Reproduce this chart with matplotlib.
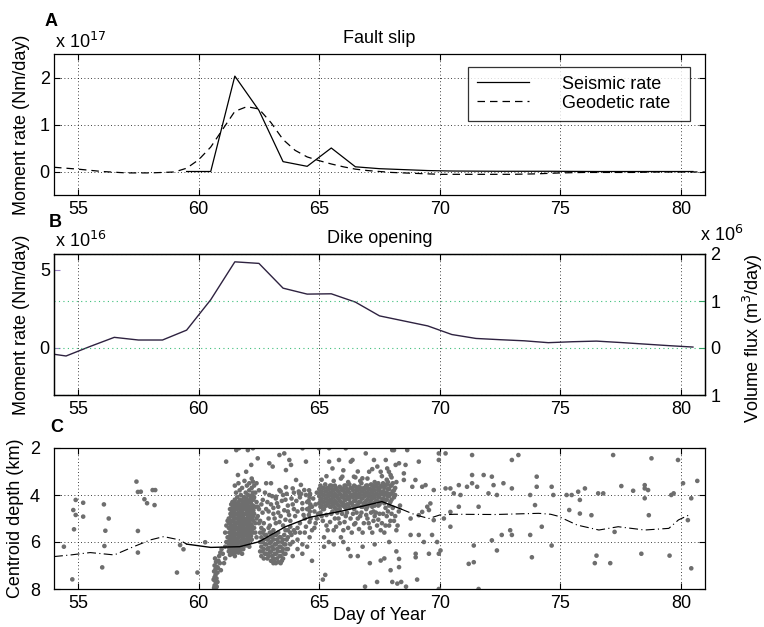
import matplotlib
matplotlib.use("Agg")
import matplotlib.pyplot as plt
import numpy as np

plt.rcParams['font.family'] = ['Liberation Sans', 'DejaVu Sans']
FS = 13
plt.rcParams['font.size'] = FS

# ---------------- Panel A: fault slip (x 1e17 Nm/day) ----------------
seis_day = [59.5, 60.5, 61.5, 62.5, 63.5, 64.5, 65.5, 66.5, 67.5, 68.5, 69.5, 70.5,
            72.5, 74.5, 76.5, 78.5, 80.5]
seis_rate = [0.0, 0.0, 2.03, 1.30, 0.21, 0.11, 0.50, 0.10, 0.06, 0.04, 0.02, 0.01,
             0.005, 0.005, 0.0, 0.0, 0.0]
geo_day = [54.0, 55.0, 56.0, 57.0, 58.0, 59.0, 59.5, 60.0, 60.5, 61.0, 61.5, 62.0,
           62.5, 63.0, 63.5, 64.0, 64.5, 65.0, 65.5, 66.0, 66.5, 67.0, 67.5, 68.0,
           69.0, 70.0, 71.0, 72.0, 73.0, 74.0, 75.0, 76.0, 77.0, 78.0, 79.0, 80.0, 81.0]
geo_rate = [0.09, 0.05, 0.0, -0.03, -0.03, -0.01, 0.07, 0.25, 0.52, 0.90, 1.28, 1.38,
            1.33, 1.04, 0.68, 0.45, 0.31, 0.23, 0.16, 0.10, 0.05, 0.02, 0.0, -0.02,
            -0.04, -0.06, -0.06, -0.06, -0.06, -0.05, -0.03, -0.02, -0.02, -0.02, -0.01, -0.01, -0.01]

# ---------------- Panel B: dike opening (x 1e16 Nm/day) ----------------
dike_day = [54.0, 54.5, 55.5, 56.5, 57.5, 58.5, 59.5, 60.5, 61.5, 62.5, 63.5, 64.5,
            65.5, 66.5, 67.5, 68.5, 69.5, 70.5, 71.5, 72.5, 73.5, 74.5, 75.5, 76.5,
            77.5, 78.5, 79.5, 80.5]
dike_rate = [-0.40, -0.51, 0.10, 0.68, 0.51, 0.51, 1.14, 3.08, 5.50, 5.40, 3.82, 3.44,
             3.46, 2.93, 2.05, 1.73, 1.41, 0.86, 0.61, 0.53, 0.46, 0.34, 0.40, 0.44,
             0.35, 0.25, 0.15, 0.06]

# ---------------- Panel C: centroid depth (km) ----------------
trend_day = [54.0, 54.7, 55.5, 56.5, 57.3, 58.0, 58.55, 59.2, 59.5, 60.5, 61.7, 62.5,
             63.6, 64.6, 66.0, 67.6, 68.4, 69.0, 69.55, 70.0, 70.6, 72.3, 74.1, 74.6,
             74.9, 75.7, 76.6, 77.4, 78.5, 79.5, 79.9, 80.4]
trend_depth = [6.62, 6.55, 6.45, 6.55, 6.20, 5.91, 5.77, 5.91, 6.09, 6.23, 6.20, 5.99,
               5.35, 4.95, 4.67, 4.28, 4.60, 4.85, 5.00, 4.85, 4.82, 4.83, 4.78, 4.82,
               4.90, 5.28, 5.49, 5.35, 5.49, 5.42, 5.06, 4.82]
trend_solid_from = 59.5
trend_solid_to = 68.4

eq_day = [
 54.41, 54.90, 55.21, 54.80, 54.90, 55.21, 54.83, 54.76, 56.07, 56.27, 56.13, 56.09, 56.00,
 57.42, 57.48, 57.60, 57.75, 57.86, 57.48, 57.48, 58.09, 58.20, 58.17, 59.23, 59.37, 59.10,
 59.95, 60.27,
 60.68, 60.72, 60.66, 60.75, 60.70, 60.64, 60.78, 60.70, 60.66, 60.74, 60.68, 60.72, 60.66,
 60.75, 60.70, 60.80, 60.82, 60.62, 60.78, 60.64, 60.85, 60.90, 60.95, 61.00, 60.88, 60.92,
 61.05, 61.10, 61.10, 61.15, 61.20, 61.10, 61.15, 61.20,
 61.14, 61.56, 61.67, 62.04, 62.25, 62.18, 61.97, 61.63, 62.25, 62.45, 62.93, 63.07, 63.00,
 63.35, 63.55, 63.76, 63.83, 63.62, 64.04, 64.24, 64.38, 64.17, 63.90, 63.62, 63.35, 63.21,
 62.93, 62.66, 62.45, 62.80, 64.31, 64.45, 64.99, 65.41, 66.10, 66.38, 66.31, 66.93, 67.27,
 67.41, 67.55, 68.03, 65.41, 65.82, 65.55, 65.96, 66.44, 66.79, 67.07, 67.82, 67.96, 68.17,
]
eq_depth = [
 6.20, 4.21, 4.33, 4.64, 4.85, 4.92, 5.46, 7.59, 4.40, 5.00, 5.52, 6.17, 7.08,
 3.43, 3.87, 3.86, 4.18, 4.35, 5.53, 6.45, 3.79, 3.79, 4.43, 6.13, 6.31, 7.30,
 7.30, 6.01,
 6.70, 6.85, 7.00, 7.05, 7.15, 7.25, 7.30, 7.40, 7.50, 7.55, 7.65, 7.75, 7.85,
 7.90, 7.98, 7.10, 6.80, 7.60, 7.70, 7.95, 6.60, 6.45, 6.30, 6.50, 6.90, 7.20,
 6.90, 6.70, 6.20, 6.00, 5.80, 5.60, 5.30, 5.10,
 2.58, 2.09, 2.01, 2.09, 2.01, 2.72, 3.01, 3.15, 3.43, 2.44, 2.65, 2.79, 3.50,
 2.30, 2.23, 2.51, 2.72, 2.94, 3.36, 3.57, 3.79, 3.93, 3.72, 3.67, 3.79, 4.07,
 4.00, 4.21, 4.50, 3.50, 2.01, 2.58, 2.01, 2.01, 2.01, 2.51, 2.58, 2.23, 2.51,
 2.79, 3.01, 2.09, 2.58, 2.51, 2.87, 3.22, 3.22, 3.29, 3.01, 2.87, 3.15, 2.72,
]

# dense cluster 61.2-62.5 km 3.3-6.6
blobA_day = [
 61.25, 61.25, 61.25, 61.25, 61.25,
 61.30, 61.30, 61.30, 61.30, 61.30, 61.30,
 61.35, 61.35, 61.35, 61.35, 61.35,
 61.40, 61.40, 61.40, 61.40, 61.40, 61.40,
 61.45, 61.45, 61.45, 61.45, 61.45,
 61.50, 61.50, 61.50, 61.50, 61.50, 61.50, 61.50, 61.50,
 61.55, 61.55, 61.55, 61.55, 61.55, 61.55,
 61.60, 61.60, 61.60, 61.60, 61.60, 61.60,
 61.65, 61.65, 61.65, 61.65, 61.65, 61.65, 61.65,
 61.70, 61.70, 61.70, 61.70, 61.70, 61.70,
 61.75, 61.75, 61.75, 61.75, 61.75,
 61.80, 61.80, 61.80, 61.80, 61.80, 61.80, 61.80,
 61.85, 61.85, 61.85, 61.85, 61.85,
 61.90, 61.90, 61.90, 61.90, 61.90, 61.90,
 61.95, 61.95, 61.95, 61.95, 61.95, 61.95,
 62.00, 62.00, 62.00, 62.00, 62.00, 62.00,
 62.05, 62.05, 62.05, 62.05, 62.05,
 62.10, 62.10, 62.10, 62.10, 62.10, 62.10, 62.10,
 62.15, 62.15, 62.15, 62.15,
 62.20, 62.20, 62.20, 62.20, 62.20, 62.20,
 62.25, 62.25, 62.25, 62.25,
 62.30, 62.30, 62.30, 62.30,
 62.40, 62.40, 62.40, 62.40,
 62.50, 62.50, 62.50,
 61.27, 61.27, 61.27, 61.27,
 61.32, 61.32, 61.32, 61.32, 61.32,
 61.37, 61.37, 61.37, 61.37, 61.37,
 61.42, 61.42, 61.42, 61.42, 61.42, 61.42,
 61.47, 61.47, 61.47, 61.47, 61.47, 61.47,
 61.52, 61.52, 61.52, 61.52, 61.52, 61.52,
 61.57, 61.57, 61.57, 61.57, 61.57,
 61.62, 61.62, 61.62, 61.62, 61.62, 61.62,
 61.67, 61.67, 61.67, 61.67, 61.67,
 61.72, 61.72, 61.72, 61.72, 61.72, 61.72,
 61.77, 61.77, 61.77, 61.77, 61.77,
 61.82, 61.82, 61.82, 61.82, 61.82,
 61.87, 61.87, 61.87, 61.87, 61.87,
 61.92, 61.92, 61.92, 61.92, 61.92,
 61.97, 61.97, 61.97, 61.97, 61.97,
 62.02, 62.02, 62.02, 62.02,
 62.07, 62.07, 62.07, 62.07, 62.07,
 62.12, 62.12, 62.12, 62.12,
 62.17, 62.17, 62.17, 62.17,
 62.22, 62.22, 62.22, 62.22,
 62.27, 62.27, 62.27,
 62.35, 62.35, 62.35, 62.35,
]
blobA_depth = [
 5.00, 5.40, 5.80, 6.10, 6.40,
 4.60, 5.20, 5.60, 6.00, 6.30, 6.55,
 4.40, 4.90, 5.30, 5.70, 6.20,
 4.30, 4.70, 5.10, 5.50, 5.90, 6.35,
 4.50, 4.95, 5.35, 5.80, 6.15,
 3.60, 4.20, 4.60, 5.00, 5.45, 5.90, 6.30, 6.60,
 3.90, 4.40, 4.80, 5.20, 5.65, 6.10,
 4.10, 4.55, 5.00, 5.40, 5.85, 6.25,
 3.50, 4.30, 4.75, 5.15, 5.60, 6.00, 6.45,
 3.80, 4.45, 4.90, 5.30, 5.75, 6.20,
 4.00, 4.60, 5.05, 5.50, 5.95,
 3.70, 4.25, 4.70, 5.20, 5.65, 6.10, 6.50,
 4.35, 4.85, 5.35, 5.80, 6.30,
 3.40, 4.10, 4.55, 5.00, 5.50, 5.90,
 3.90, 4.40, 4.80, 5.25, 5.70, 6.15,
 3.60, 4.20, 4.65, 5.10, 5.55, 6.00,
 4.00, 4.50, 4.95, 5.40, 5.85,
 3.50, 3.80, 4.30, 4.75, 5.20, 5.65, 6.20,
 4.10, 4.60, 5.05, 5.50,
 3.30, 3.70, 4.20, 4.70, 5.30, 5.90,
 3.90, 4.45, 4.90, 5.60,
 3.60, 4.10, 4.80, 5.40,
 3.50, 4.30, 5.00, 5.80,
 3.80, 4.60, 5.20,
 5.20, 5.60, 5.95, 6.25,
 4.80, 5.40, 5.80, 6.15, 6.45,
 4.65, 5.10, 5.50, 5.95, 6.40,
 4.50, 4.90, 5.30, 5.70, 6.10, 6.50,
 4.30, 4.75, 5.15, 5.60, 6.00, 6.40,
 4.40, 4.80, 5.25, 5.70, 6.10, 6.45,
 4.60, 5.00, 5.45, 5.90, 6.30,
 4.35, 4.80, 5.20, 5.65, 6.05, 6.40,
 4.55, 4.95, 5.40, 5.80, 6.25,
 4.20, 4.70, 5.10, 5.55, 6.00, 6.35,
 4.40, 4.85, 5.30, 5.75, 6.15,
 4.50, 4.95, 5.45, 5.90, 6.30,
 4.10, 4.60, 5.10, 5.55, 6.05,
 4.30, 4.80, 5.25, 5.70, 6.10,
 4.15, 4.60, 5.05, 5.45, 5.90,
 4.40, 4.85, 5.30, 5.75,
 4.25, 4.70, 5.15, 5.60, 6.05,
 4.50, 4.95, 5.40, 5.90,
 4.35, 4.85, 5.25, 5.75,
 4.00, 4.50, 4.95, 5.45,
 4.20, 4.65, 5.10,
 3.90, 4.50, 5.20, 5.60,
]

# cluster 62.5-64.9
blobB_day = [
 62.55, 62.55, 62.55, 62.60, 62.60, 62.60, 62.60, 62.70, 62.70, 62.70, 62.70,
 62.80, 62.80, 62.80, 62.90, 62.90, 62.90, 62.90, 63.00, 63.00, 63.00, 63.00,
 63.10, 63.10, 63.10, 63.10, 63.10, 63.20, 63.20, 63.20, 63.20, 63.30, 63.30, 63.30, 63.30,
 63.40, 63.40, 63.40, 63.40, 63.50, 63.50, 63.50, 63.60, 63.60, 63.60, 63.70, 63.70,
 63.90, 63.90, 64.10, 64.10, 64.30, 64.30, 64.50, 64.70,
 62.65, 62.65, 62.65, 62.75, 62.75, 62.75, 62.85, 62.85, 62.85, 62.95, 62.95, 62.95,
 63.05, 63.05, 63.05, 63.15, 63.15, 63.15, 63.15, 63.25, 63.25, 63.25,
 63.35, 63.35, 63.35, 63.45, 63.45, 63.45, 63.55, 63.55, 63.55, 63.65, 63.65, 63.80, 63.80,
 62.80, 62.90, 63.00, 63.10, 63.20, 63.30, 63.40, 63.50, 63.60, 63.70, 63.80, 63.90,
 64.00, 64.10, 64.20, 64.30, 64.40, 64.50, 63.95, 64.25, 63.50, 63.20, 64.00, 63.85,
 64.40, 64.60, 64.80, 64.90, 64.80,
 64.58, 64.62, 64.60, 64.56, 64.63, 64.59, 64.61, 64.57, 64.64, 64.60,
 62.45, 62.55, 62.60, 62.65, 62.70, 62.75, 62.85, 62.90, 62.95, 63.05, 63.10, 63.15,
 63.25, 63.30, 63.35, 63.40, 63.45, 63.55, 63.60, 63.65, 63.70, 63.75, 63.80, 63.85,
 63.95, 64.05, 64.10, 64.15, 64.20, 64.30, 64.35, 64.45, 64.50, 64.70, 64.75, 64.85,
 64.90, 64.95, 64.85, 64.70, 64.45, 64.20, 63.95, 63.70,
]
blobB_depth = [
 5.60, 6.00, 6.40, 5.40, 5.80, 6.20, 6.60, 5.50, 5.90, 6.30, 6.70,
 5.70, 6.10, 6.50, 5.40, 5.85, 6.25, 6.60, 5.60, 6.00, 6.40, 6.80,
 5.50, 5.90, 6.30, 6.70, 6.90, 5.70, 6.10, 6.50, 6.90, 5.60, 6.00, 6.40, 6.85,
 5.80, 6.20, 6.60, 6.90, 5.90, 6.30, 6.70, 5.50, 6.10, 6.50, 5.80, 6.30,
 6.00, 6.60, 5.90, 6.30, 6.10, 6.50, 6.20, 6.80,
 5.60, 6.00, 6.40, 5.70, 6.10, 6.50, 5.90, 6.30, 6.70, 5.60, 6.05, 6.45,
 5.80, 6.20, 6.60, 5.70, 6.10, 6.50, 6.85, 5.90, 6.30, 6.70,
 5.80, 6.20, 6.60, 6.00, 6.40, 6.80, 5.70, 6.10, 6.50, 5.90, 6.30, 5.60, 6.10,
 4.60, 5.00, 4.40, 4.80, 5.20, 4.50, 4.90, 5.30, 4.20, 4.70, 5.10, 4.40,
 4.90, 5.40, 4.10, 4.60, 5.00, 4.30, 3.90, 3.95, 4.00, 4.15, 5.60, 5.70,
 5.60, 5.80, 5.40, 5.00, 4.70,
 3.80, 3.95, 4.10, 4.25, 4.40, 4.55, 4.70, 4.85, 5.00, 5.15,
 4.90, 5.10, 4.40, 4.75, 5.20, 3.90, 4.30, 4.70, 5.30, 4.05, 4.55, 5.00,
 4.35, 4.75, 5.15, 3.85, 4.25, 4.65, 5.05, 3.95, 4.45, 4.85, 5.35, 4.15,
 4.60, 4.25, 4.70, 3.85, 5.20, 4.35, 4.85, 4.00, 4.60, 4.50, 4.15, 4.40,
 3.90, 4.80, 5.20, 5.50, 5.35, 5.60, 5.50, 5.50,
]

# dense band 65-68.2
bandC_day = [
 65.05, 65.05, 65.05, 65.05, 65.15, 65.15, 65.15, 65.15, 65.25, 65.25, 65.25, 65.25,
 65.35, 65.35, 65.35, 65.45, 65.45, 65.45, 65.45, 65.55, 65.55, 65.55,
 65.65, 65.65, 65.65, 65.65, 65.75, 65.75, 65.75, 65.85, 65.85, 65.85, 65.85,
 65.95, 65.95, 65.95, 66.05, 66.05, 66.05, 66.05, 66.15, 66.15, 66.15,
 66.25, 66.25, 66.25, 66.25, 66.35, 66.35, 66.35, 66.45, 66.45, 66.45, 66.45,
 66.55, 66.55, 66.55, 66.65, 66.65, 66.65, 66.75, 66.75, 66.75, 66.75,
 66.85, 66.85, 66.85, 66.95, 66.95, 66.95, 66.95, 67.05, 67.05, 67.05,
 67.15, 67.15, 67.15, 67.25, 67.25, 67.25, 67.25, 67.35, 67.35, 67.35,
 67.45, 67.45, 67.45, 67.45, 67.55, 67.55, 67.55, 67.65, 67.65, 67.65,
 67.75, 67.75, 67.75, 67.75, 67.85, 67.85, 67.85, 67.95, 67.95, 67.95,
 68.05, 68.05, 68.15, 68.15,
 65.00, 65.00, 65.00, 65.10, 65.10, 65.10, 65.20, 65.20, 65.20, 65.20, 65.30, 65.30, 65.30,
 65.40, 65.40, 65.40, 65.50, 65.50, 65.50, 65.50, 65.60, 65.60, 65.60,
 65.70, 65.70, 65.70, 65.70, 65.80, 65.80, 65.80, 65.90, 65.90, 65.90,
 66.00, 66.00, 66.00, 66.10, 66.10, 66.10, 66.10, 66.20, 66.20, 66.20,
 66.30, 66.30, 66.30, 66.40, 66.40, 66.40, 66.50, 66.50, 66.50, 66.60, 66.60, 66.60,
 66.70, 66.70, 66.70, 66.80, 66.80, 66.80, 66.90, 66.90, 66.90,
 67.00, 67.00, 67.00, 67.00, 67.10, 67.10, 67.10, 67.20, 67.20, 67.20, 67.20,
 67.30, 67.30, 67.30, 67.40, 67.40, 67.40, 67.50, 67.50, 67.50, 67.60, 67.60, 67.60,
 67.70, 67.70, 67.70, 67.80, 67.80, 67.80, 67.90, 67.90, 67.90, 68.00, 68.00, 68.00,
 68.10, 68.10,
 65.10, 65.30, 65.20, 65.50, 65.60, 65.80, 65.90, 66.10, 66.20, 66.40, 66.50, 66.70,
 66.80, 67.00, 67.10, 67.30, 67.40, 67.50, 67.60, 67.70, 67.80, 67.90, 68.00, 68.10,
 68.20, 68.30, 65.40, 66.00, 66.60, 67.70, 67.10, 67.40, 66.90, 68.40, 68.60, 66.30,
 65.25, 65.15,
 65.05, 65.15, 65.30, 65.35, 65.45, 65.55, 65.65, 65.70, 65.75, 65.85, 65.95, 66.00,
 66.05, 66.15, 66.30, 66.35, 66.45, 66.55, 66.60, 66.65, 66.75, 66.85, 66.95, 67.05,
 67.15, 67.20, 67.25, 67.35, 67.45, 67.55, 67.65, 67.75, 67.85, 67.95, 68.05, 68.15,
 68.25, 68.35, 65.20, 65.60, 66.20, 66.80, 67.30, 67.90, 68.20,
 65.10, 65.30, 65.60, 65.90, 66.20, 66.50, 66.70, 67.00, 67.30, 67.60, 67.80, 68.00,
 68.20, 66.00, 66.60, 67.20,
]
bandC_depth = [
 3.60, 3.90, 4.20, 4.50, 3.70, 4.00, 4.30, 4.60, 3.55, 3.85, 4.15, 4.45,
 3.70, 4.00, 4.30, 3.60, 3.90, 4.20, 4.50, 3.75, 4.05, 4.35,
 3.60, 3.95, 4.25, 4.55, 3.80, 4.10, 4.40, 3.65, 3.95, 4.25, 4.60,
 3.80, 4.10, 4.45, 3.60, 3.90, 4.20, 4.50, 3.75, 4.05, 4.40,
 3.55, 3.90, 4.20, 4.55, 3.70, 4.00, 4.35, 3.60, 3.95, 4.25, 4.60,
 3.80, 4.10, 4.45, 3.65, 3.95, 4.30, 3.50, 3.85, 4.15, 4.50,
 3.70, 4.00, 4.35, 3.60, 3.90, 4.25, 4.60, 3.75, 4.05, 4.40,
 3.55, 3.90, 4.20, 3.70, 4.00, 4.35, 4.70, 3.60, 3.95, 4.25,
 3.50, 3.80, 4.10, 4.45, 3.65, 3.95, 4.30, 3.50, 3.85, 4.15,
 3.60, 3.90, 4.20, 4.55, 3.45, 3.75, 4.05, 3.60, 3.95, 4.30,
 3.50, 3.85, 3.70, 4.00,
 3.75, 4.05, 4.35, 3.85, 4.15, 4.45, 3.70, 4.00, 4.30, 4.60, 3.85, 4.15, 4.45,
 3.75, 4.05, 4.35, 3.60, 3.90, 4.20, 4.50, 3.80, 4.10, 4.40,
 3.70, 4.00, 4.30, 4.60, 3.85, 4.15, 4.45, 3.70, 4.00, 4.30,
 3.75, 4.05, 4.35, 3.60, 3.90, 4.20, 4.55, 3.80, 4.10, 4.40,
 3.70, 4.05, 4.35, 3.80, 4.10, 4.45, 3.65, 3.95, 4.25, 3.80, 4.10, 4.40,
 3.70, 4.00, 4.30, 3.85, 4.15, 4.50, 3.75, 4.05, 4.40,
 3.60, 3.90, 4.20, 4.50, 3.75, 4.05, 4.35, 3.60, 3.85, 4.15, 4.50,
 3.80, 4.10, 4.45, 3.65, 3.95, 4.25, 3.80, 4.10, 4.40, 3.60, 3.95, 4.25,
 3.70, 4.00, 4.35, 3.55, 3.90, 4.20, 3.75, 4.05, 4.45, 3.60, 3.95, 4.20,
 3.80, 4.10,
 4.90, 5.30, 5.80, 4.80, 5.50, 5.00, 5.80, 4.90, 5.40, 4.80, 5.20, 4.90,
 5.60, 5.00, 5.40, 4.90, 5.30, 4.80, 5.20, 5.60, 4.90, 5.30, 4.80, 5.10,
 5.50, 4.70, 6.00, 6.00, 6.60, 6.70, 6.90, 7.70, 7.90, 7.70, 7.90, 6.60,
 7.40, 7.60,
 4.75, 5.10, 4.85, 5.50, 5.15, 4.70, 5.00, 5.35, 4.75, 5.20, 4.80, 5.50,
 5.15, 4.75, 5.00, 5.60, 5.25, 4.75, 5.00, 5.45, 4.75, 5.20, 4.85, 5.20,
 4.75, 5.60, 5.10, 4.75, 5.05, 5.50, 4.80, 5.30, 4.70, 5.10, 4.55, 4.90,
 5.30, 4.45, 6.20, 6.10, 6.30, 6.20, 6.10, 6.00, 6.40,
 3.35, 3.20, 3.40, 3.30, 3.45, 3.25, 3.40, 3.30, 3.45, 3.20, 3.35, 3.25,
 3.45, 2.95, 3.00, 2.90,
]

# later, sparser events 67.5-81
late_day = [
 68.10, 68.65, 67.76, 68.31, 68.58, 69.13, 67.89, 68.51, 68.51, 68.99, 68.86, 69.27,
 69.41, 69.75, 70.24, 70.44, 70.79, 70.58, 70.86, 71.13, 71.34, 71.34, 71.55, 71.34,
 71.82, 72.16, 72.23, 72.02, 72.37, 72.64, 72.99, 72.99, 73.26, 73.75, 74.02, 74.02,
 74.64, 74.71, 73.95, 74.23, 73.75, 72.99, 72.57, 72.92, 72.16, 72.37, 71.61, 71.41,
 71.20, 71.41, 73.82, 74.64, 71.61, 70.79, 70.44, 70.44, 70.17, 69.75, 69.48, 69.61,
 69.55, 69.27, 69.13, 68.79, 68.79, 69.13, 69.34, 69.68, 69.89, 70.03, 69.96, 69.55,
 69.00, 69.00, 69.06, 68.31, 68.31, 67.96, 68.03, 68.24, 67.55, 69.96, 69.96, 69.96,
 70.24,
 75.26, 75.47, 75.74, 75.81, 76.02, 76.57, 76.78, 75.37, 75.81, 76.29, 77.25, 77.19,
 77.53, 78.02, 78.50, 78.50, 78.64, 78.50, 78.67, 78.78, 79.60, 79.70, 79.88, 80.09,
 80.43, 80.29, 80.68, 80.43, 78.36, 79.53, 76.50, 76.43, 77.07,
]
late_depth = [
 2.09, 2.09, 2.51, 2.65, 2.72, 2.58, 3.01, 3.08, 3.36, 3.36, 3.65, 3.65,
 3.58, 3.79, 3.72, 3.72, 3.58, 3.93, 4.00, 3.65, 3.15, 3.50, 3.65, 2.30,
 3.15, 3.22, 3.58, 3.93, 4.00, 3.50, 3.72, 2.51, 2.30, 4.00, 3.22, 3.65,
 3.65, 4.00, 4.43, 5.35, 5.70, 5.70, 5.70, 5.50, 5.93, 6.36, 4.50, 6.15,
 6.93, 6.86, 6.65, 6.15, 8.00, 4.50, 4.72, 5.35, 5.00, 5.07, 4.50, 4.36,
 4.64, 4.72, 4.86, 5.00, 5.70, 5.70, 6.00, 5.70, 6.00, 6.36, 6.50, 6.50,
 6.50, 6.65, 7.60, 6.72, 7.07, 7.20, 7.70, 7.77, 6.79, 8.00, 2.23, 2.51,
 2.23,
 4.00, 4.00, 3.86, 4.21, 3.72, 3.93, 3.93, 4.64, 4.79, 4.86, 5.57, 2.30,
 3.62, 3.82, 3.58, 3.72, 3.79, 4.14, 4.86, 2.44, 4.00, 3.93, 2.51, 3.50,
 4.14, 5.07, 3.40, 7.12, 6.50, 6.58, 6.58, 6.90, 6.90,
]

xticks = [55, 60, 65, 70, 75, 80]

W, H = 764, 627
fig = plt.figure(figsize=(W / 100, H / 100), dpi=100)

def rect(l, t, r, b):
    return [l / W, 1 - b / H, (r - l) / W, (b - t) / H]

grid_kw = dict(color='black', linestyle=(0, (1, 3)), linewidth=0.6)

def style(ax, ypad=3):
    ax.set_xlim(54, 81)
    ax.set_xticks(xticks)
    ax.tick_params(direction='in', length=4, width=0.8, top=True, right=True,
                   labelsize=FS)
    ax.tick_params(axis='x', pad=4)
    ax.tick_params(axis='y', pad=ypad)
    for s in ax.spines.values():
        s.set_linewidth(0.9)

# ---------- A ----------
axA = fig.add_axes(rect(54, 54, 705, 195))
style(axA)
axA.set_ylim(-0.5, 2.5)
axA.set_yticks([0, 1, 2])
axA.grid(True, **grid_kw)
axA.plot(seis_day, seis_rate, color='black', lw=0.9, label='Seismic rate    ')
axA.plot(geo_day, geo_rate, color='black', lw=0.9, linestyle=(0, (6, 4)), label='Geodetic rate  ')
leg = axA.legend(loc='upper right', handlelength=2.9, handletextpad=1.8, fontsize=FS,
                 frameon=True, fancybox=False, edgecolor='black', borderpad=0.5,
                 labelspacing=0.1, bbox_to_anchor=(0.977, 0.91), borderaxespad=0)
leg.get_frame().set_linewidth(0.9)
axA.set_title('Fault slip', fontsize=FS, pad=8)
axA.set_ylabel('Moment rate (Nm/day)', fontsize=FS, labelpad=7)
axA.text(0.001, 1.043, r'x 10$^{17}$', transform=axA.transAxes, ha='left', va='baseline', fontsize=FS)
fig.text(45 / W, 1 - 21 / H, 'A', fontsize=FS, fontweight='bold', va='center', ha='left')

# ---------- B ----------
purple = '#9b82c4'
green = '#2ea05f'
axB = fig.add_axes(rect(54, 254, 705, 395))
style(axB)
axB.set_ylim(-3, 6)
axB.set_yticks([0, 5])
axB.tick_params(axis='y', colors=purple, labelcolor='black')
axB.xaxis.grid(True, **grid_kw)
axB.plot(dike_day, dike_rate, color='#2e2240', lw=1.0)
axB.set_title('Dike opening', fontsize=FS, pad=8)
axB.set_ylabel('Moment rate (Nm/day)', fontsize=FS, labelpad=7)
axB.text(0.001, 1.05, r'x 10$^{16}$', transform=axB.transAxes, ha='left', va='baseline', fontsize=FS)
fig.text(49 / W, 1 - 222 / H, 'B', fontsize=FS, fontweight='bold', va='center', ha='left')

axB2 = axB.twinx()
axB2.set_ylim(-1, 2)
axB2.set_yticks([-1, 0, 1, 2])
axB2.set_yticklabels(['1', '0', '1', '2'])
axB2.tick_params(axis='y', direction='in', length=4, width=0.8, colors=green,
                 labelcolor='black', labelsize=FS, pad=4)
axB2.yaxis.grid(True, color='#3cbf7a', linestyle=(0, (1, 3)), linewidth=0.8)
axB2.set_ylabel(r'Volume flux (m$^3$/day)', fontsize=FS)
axB2.yaxis.set_label_coords(1.055, 0.40)
axB2.text(0.993, 1.09, r'x 10$^{6}$', transform=axB2.transAxes, ha='left', va='baseline', fontsize=FS)
for s in axB2.spines.values():
    s.set_linewidth(0.9)

# ---------- C ----------
axC = fig.add_axes(rect(54, 448, 705, 589))
style(axC, ypad=10)
axC.set_ylim(8, 2)
axC.set_yticks([2, 4, 6, 8])
axC.grid(True, **grid_kw)
all_day = eq_day + blobA_day + blobB_day + bandC_day + late_day
all_depth = eq_depth + blobA_depth + blobB_depth + bandC_depth + late_depth
axC.scatter(all_day, all_depth, s=11, color='#6e6e6e', edgecolors='none', zorder=2)
td = np.array(trend_day)
tz = np.array(trend_depth)
m = (td >= trend_solid_from) & (td <= trend_solid_to)
axC.plot(td[td <= trend_solid_from], tz[td <= trend_solid_from], color='black', lw=0.8,
         linestyle=(0, (8, 3, 1, 3)), zorder=3)
axC.plot(td[m], tz[m], color='black', lw=1.0, zorder=3)
axC.plot(td[td >= trend_solid_to], tz[td >= trend_solid_to], color='black', lw=0.8,
         linestyle=(0, (8, 3, 1, 3)), zorder=3)
axC.set_ylabel('Centroid depth (km)', fontsize=FS, labelpad=4)
axC.set_xlabel('Day of Year', fontsize=FS, labelpad=-3)
fig.text(50 / W, 1 - 427 / H, 'C', fontsize=FS, fontweight='bold', va='center', ha='left')

fig.savefig('out.png', dpi=100)
